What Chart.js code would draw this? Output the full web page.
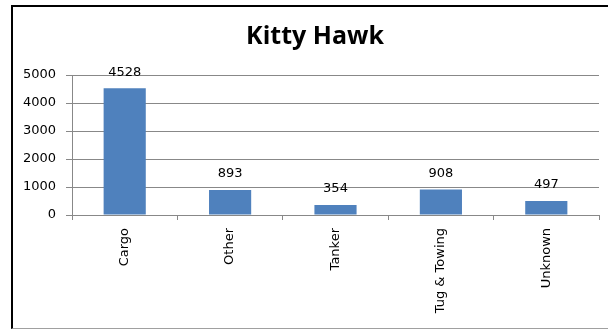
<!DOCTYPE html>
<html>
<head>
<meta charset="utf-8">
<script src="https://cdn.jsdelivr.net/npm/chart.js@4"></script>
<style>
  html, body { margin: 0; padding: 0; background: #fff; overflow: hidden; width: 608px; height: 329px; }
  #frame {
    position: absolute; left: 11px; top: 5px; width: 597px; height: 321px;
    border-top: 2px solid #000; border-left: 2px solid #000; border-bottom: 1px solid #a0a0a0;
    box-sizing: content-box;
  }
  #chart { position: absolute; left: 0; top: 0; }
</style>
</head>
<body>
<div id="frame"></div>
<canvas id="chart" width="608" height="329"></canvas>
<script>
// chart data
const chartTitle = 'Kitty Hawk';
const categories = ['Cargo', 'Other', 'Tanker', 'Tug & Towing', 'Unknown'];
const counts = [4528, 893, 354, 908, 497];
const yTicks = [0, 1000, 2000, 3000, 4000, 5000];

const GRID = '#888888';

// title is centred on the outer frame, not on the canvas
const frameTitle = {
    id: 'frameTitle',
    afterDraw(chart) {
        const ctx = chart.ctx;
        ctx.save();
        ctx.font = 'bold 25px "Open Sans"';
        ctx.fillStyle = '#000';
        ctx.textAlign = 'center';
        ctx.textBaseline = 'alphabetic';
        ctx.fillText(chartTitle, 315, 44);
        ctx.restore();
    }
};

// value labels above each bar
const barLabels = {
    id: 'barLabels',
    afterDatasetsDraw(chart) {
        const ctx = chart.ctx;
        const meta = chart.getDatasetMeta(0);
        ctx.save();
        ctx.font = '13px "DejaVu Sans"';
        ctx.fillStyle = '#000';
        ctx.textAlign = 'center';
        ctx.textBaseline = 'middle';
        meta.data.forEach((bar, i) => {
            ctx.fillText(String(counts[i]), bar.x, bar.y - 16);
        });
        ctx.restore();
    }
};

new Chart(document.getElementById('chart'), {
    type: 'bar',
    data: {
        labels: categories,
        datasets: [{
            data: counts,
            backgroundColor: '#4F81BD',
            borderWidth: 0,
            barPercentage: 0.4,
            categoryPercentage: 1
        }]
    },
    options: {
        responsive: false,
        animation: false,
        devicePixelRatio: 1,
        layout: { padding: { left: 0, right: 9, top: 75, bottom: 0 } },
        plugins: {
            legend: { display: false },
            tooltip: { enabled: false },
            title: { display: false }
        },
        scales: {
            x: {
                grid: { drawOnChartArea: false, drawTicks: true, tickLength: 5, color: GRID, offset: true },
                border: { color: GRID },
                ticks: {
                    minRotation: 90, maxRotation: 90, autoSkip: false, padding: 8,
                    color: '#000', font: { family: '"DejaVu Sans"', size: 13 }
                },
                afterFit: s => { s.height = 114; }
            },
            y: {
                min: 0, max: 5000,
                afterBuildTicks: s => { s.ticks = yTicks.map(v => ({ value: v })); },
                grid: { color: GRID, tickLength: 6 },
                border: { color: GRID },
                ticks: {
                    padding: 10, color: '#000', font: { family: '"DejaVu Sans"', size: 13 },
                    callback: v => String(v)
                },
                afterFit: s => { s.width = 72; }
            }
        }
    },
    plugins: [frameTitle, barLabels]
});
</script>
</body>
</html>
